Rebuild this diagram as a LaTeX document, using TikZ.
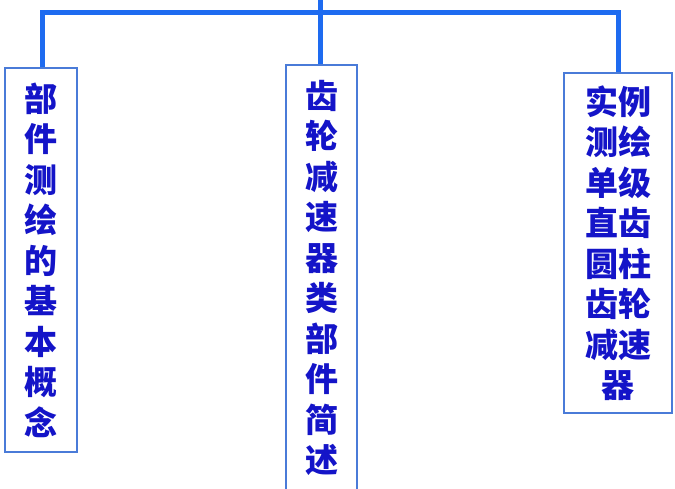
\documentclass[tikz,border=0pt]{standalone}
\usepackage{fontspec}
\newfontfamily\cjk{Noto Sans CJK SC}
\definecolor{linecol}{HTML}{1E6BF0}
\definecolor{boxcol}{HTML}{4A7BD8}
\definecolor{txtcol}{HTML}{1414C8}
\tikzset{
  box/.style={draw=boxcol, line width=2pt, fill=white, inner sep=0pt, align=center,
    text=txtcol, font=\cjk\bfseries\fontsize{33}{40.5}\selectfont},
  conn/.style={draw=linecol, line width=5pt}
}
\begin{document}
\begin{tikzpicture}[x=1pt,y=-1pt]
\useasboundingbox (0,0) rectangle (675,488);
\node[box, minimum width=72pt, minimum height=384pt] (left) at (41,260)
  {部\\件\\测\\绘\\的\\基\\本\\概\\念};
\node[box, minimum width=71pt, minimum height=426pt] (mid) at (321.5,278)
  {齿\\轮\\减\\速\\器\\类\\部\\件\\简\\述};
\node[box, minimum width=108pt, minimum height=340pt] (right) at (618,243)
  {实例\\测绘\\单级\\直齿\\圆柱\\齿轮\\减速\\器};
\coordinate (top) at (320,0);
\coordinate (bar) at (320,12);
\draw[conn] (left.north -| 42,0) |- (bar) -| (right.north -| 618,0);
\draw[conn] (top) -- (mid.north -| 320,0);
\end{tikzpicture}
\end{document}
